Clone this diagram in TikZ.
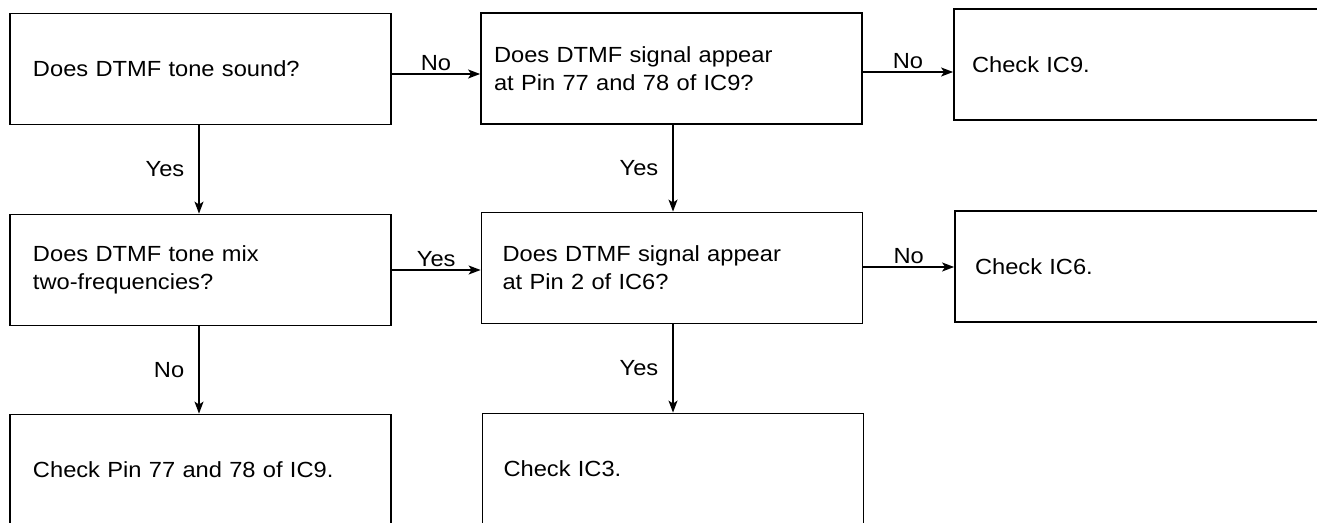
\documentclass[tikz,border=0pt]{standalone}
\usepackage{fontspec}
\setmainfont{Liberation Sans}[FakeStretch=1.08]
\usetikzlibrary{arrows.meta}
\tikzset{
  box/.style={draw, line width=1.8bp, minimum height=111bp, align=left, inner ysep=0pt, font=\fontsize{22}{28}\selectfont},
  arr/.style={line width=1.5bp, -{Stealth[length=12bp,width=9bp,inset=3bp]}},
  lab/.style={font=\fontsize{22}{26}\selectfont, inner sep=3bp}
}
\begin{document}
\begin{tikzpicture}[x=1bp,y=-1bp]
\useasboundingbox (0,0) rectangle (1317,523);
\clip (0,0) rectangle (1317,523);
\node[box, inner xsep=23bp, text width=335bp] (A) at (200.5,69) {Does DTMF tone sound?};
\node[box, inner xsep=13bp, text width=355bp] (B) at (671.5,68.5) {Does DTMF signal appear\\at Pin 77 and 78 of IC9?};
\node[box, inner xsep=18bp, text width=345bp] (C) at (1144.5,64.5) {Check IC9.};
\node[box, inner xsep=23bp, text width=335bp] (D) at (200.5,270) {Does DTMF tone mix\\two-frequencies?};
\node[box, inner xsep=21bp, text width=339bp] (E) at (672,268) {Does DTMF signal appear\\at Pin 2 of IC6?};
\node[box, inner xsep=20bp, text width=341bp] (F) at (1145.5,266.5) {Check IC6.};
\node[box, inner xsep=23bp, text width=335bp] (G) at (200.5,470) {Check Pin 77 and 78 of IC9.};
\node[box, inner xsep=21bp, text width=339bp] (H) at (673,469) {Check IC3.};
% horizontal connectors
\draw[arr] (A.east |- 0,74) -- node[lab, above] {No} (B.west |- 0,74);
\draw[arr] (B.east |- 0,72) -- node[lab, above] {No} (C.west |- 0,72);
\draw[arr] (D.east |- 0,270) -- node[lab, above] {Yes} (E.west |- 0,270);
\draw[arr] (E.east |- 0,267) -- node[lab, above] {No} (F.west |- 0,267);
% vertical connectors
\draw[arr] (A.south -| 199,0) -- node[lab, left, inner xsep=14bp] {Yes} (D.north -| 199,0);
\draw[arr] (B.south -| 673,0) -- node[lab, left, inner xsep=14bp] {Yes} (E.north -| 673,0);
\draw[arr] (D.south -| 199,0) -- node[lab, left, inner xsep=14bp] {No} (G.north -| 199,0);
\draw[arr] (E.south -| 673,0) -- node[lab, left, inner xsep=14bp] {Yes} (H.north -| 673,0);
\end{tikzpicture}
\end{document}
